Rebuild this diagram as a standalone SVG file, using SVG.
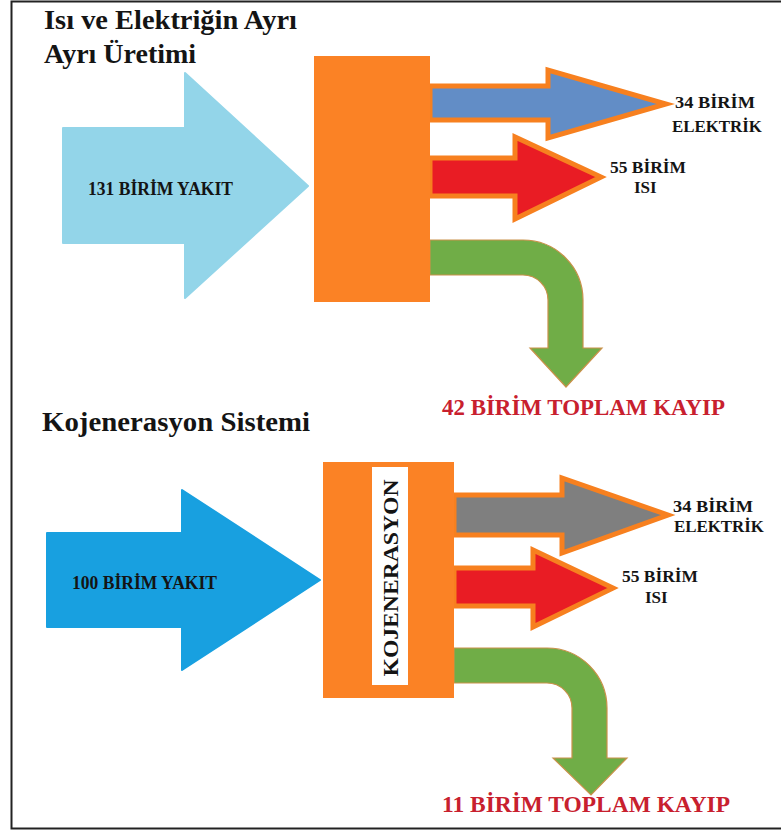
<svg xmlns="http://www.w3.org/2000/svg" width="781" height="832" viewBox="0 0 781 832">
<style>
  .t{font-family:"Liberation Serif","Times New Roman",serif;font-weight:bold;fill:#141414}
  .title{font-size:28px}
  .lbl{font-size:17px}
  .loss{font-size:23px;fill:#C8202E}
  .box{fill:#FB8225}
  .outArrow{stroke:#F7801F;stroke-width:5;stroke-linejoin:miter}
  .green{fill:#70AD47;stroke:#C9914A;stroke-width:1.2}
</style>
<rect x="11.5" y="1.5" width="775" height="827" fill="#ffffff" stroke="#222" stroke-width="2"/>

<g id="titles">
  <text class="t title" x="44" y="29" textLength="253" lengthAdjust="spacingAndGlyphs">Isı ve Elektriğin Ayrı</text>
  <text class="t title" x="44" y="63">Ayrı Üretimi</text>
  <text class="t title" x="42" y="431" textLength="268" lengthAdjust="spacingAndGlyphs">Kojenerasyon Sistemi</text>
</g>

<g id="connectors">
  <!-- top section -->
  <path id="fuel-top" d="M63,128 H185 V73 L308,186 L185,298 V243 H63 Z" fill="#93D5E9" stroke="#93D5E9" stroke-width="2" stroke-linejoin="round"/>
  <path id="elec-top" class="outArrow" d="M430,86 H548 V70 L666,104 L548,138 V120 H430 Z" fill="#628DC6"/>
  <path id="heat-top" class="outArrow" d="M430,158 H515 V137 L601,177 L515,219 V196 H430 Z" fill="#E91C24"/>
  <path id="loss-top" class="green" d="M430,240 H523 A60,60 0 0 1 583,300 V348 H602 L566,387 L530,348 H548 V300 A25,25 0 0 0 523,275 H430 Z"/>
  <!-- bottom section -->
  <path id="fuel-bot" d="M47,533 H182 V490 L320,580 L182,670 V627 H47 Z" fill="#18A0E0" stroke="#18A0E0" stroke-width="2" stroke-linejoin="round"/>
  <path id="elec-bot" class="outArrow" d="M454,495 H562 V478 L668,515 L562,553 V535 H454 Z" fill="#7F7F7F"/>
  <path id="heat-bot" class="outArrow" d="M454,568 H533 V550 L613,588 L533,627 V606 H454 Z" fill="#E91C24"/>
  <path id="loss-bot" class="green" d="M454,648 H547 A60,60 0 0 1 607,708 V758 H627 L591,795 L553,758 H572 V708 A25,25 0 0 0 547,683 H454 Z"/>
</g>

<g id="node-plant-top">
  <rect class="box" x="314" y="56" width="116" height="246"/>
</g>

<g id="node-cogen">
  <rect class="box" x="323" y="462" width="131" height="236"/>
  <rect x="372" y="467" width="36" height="218" fill="#ffffff"/>
  <text class="t" font-size="22" text-anchor="middle" transform="translate(398,578) rotate(-90)" textLength="197" lengthAdjust="spacingAndGlyphs">KOJENERASYON</text>
</g>

<g id="labels-top">
  <text class="t lbl" x="88" y="195" font-size="18" style="font-size:18px" textLength="145" lengthAdjust="spacingAndGlyphs">131 BİRİM YAKIT</text>
  <text class="t lbl" x="675" y="108" textLength="80" lengthAdjust="spacingAndGlyphs">34 BİRİM</text>
  <text class="t lbl" x="672" y="132" textLength="90" lengthAdjust="spacingAndGlyphs">ELEKTRİK</text>
  <text class="t lbl" x="610" y="173" textLength="76" lengthAdjust="spacingAndGlyphs">55 BİRİM</text>
  <text class="t lbl" x="634" y="193">ISI</text>
  <text class="t loss" x="442" y="415" textLength="283" lengthAdjust="spacingAndGlyphs">42 BİRİM TOPLAM KAYIP</text>
</g>

<g id="labels-bot">
  <text class="t lbl" x="72" y="589" style="font-size:18px" textLength="145" lengthAdjust="spacingAndGlyphs">100 BİRİM YAKIT</text>
  <text class="t lbl" x="673" y="512" textLength="80" lengthAdjust="spacingAndGlyphs">34 BİRİM</text>
  <text class="t lbl" x="674" y="532" textLength="90" lengthAdjust="spacingAndGlyphs">ELEKTRİK</text>
  <text class="t lbl" x="622" y="582" textLength="76" lengthAdjust="spacingAndGlyphs">55 BİRİM</text>
  <text class="t lbl" x="645" y="603">ISI</text>
  <text class="t loss" x="442" y="812" textLength="288" lengthAdjust="spacingAndGlyphs">11 BİRİM TOPLAM KAYIP</text>
</g>
</svg>
